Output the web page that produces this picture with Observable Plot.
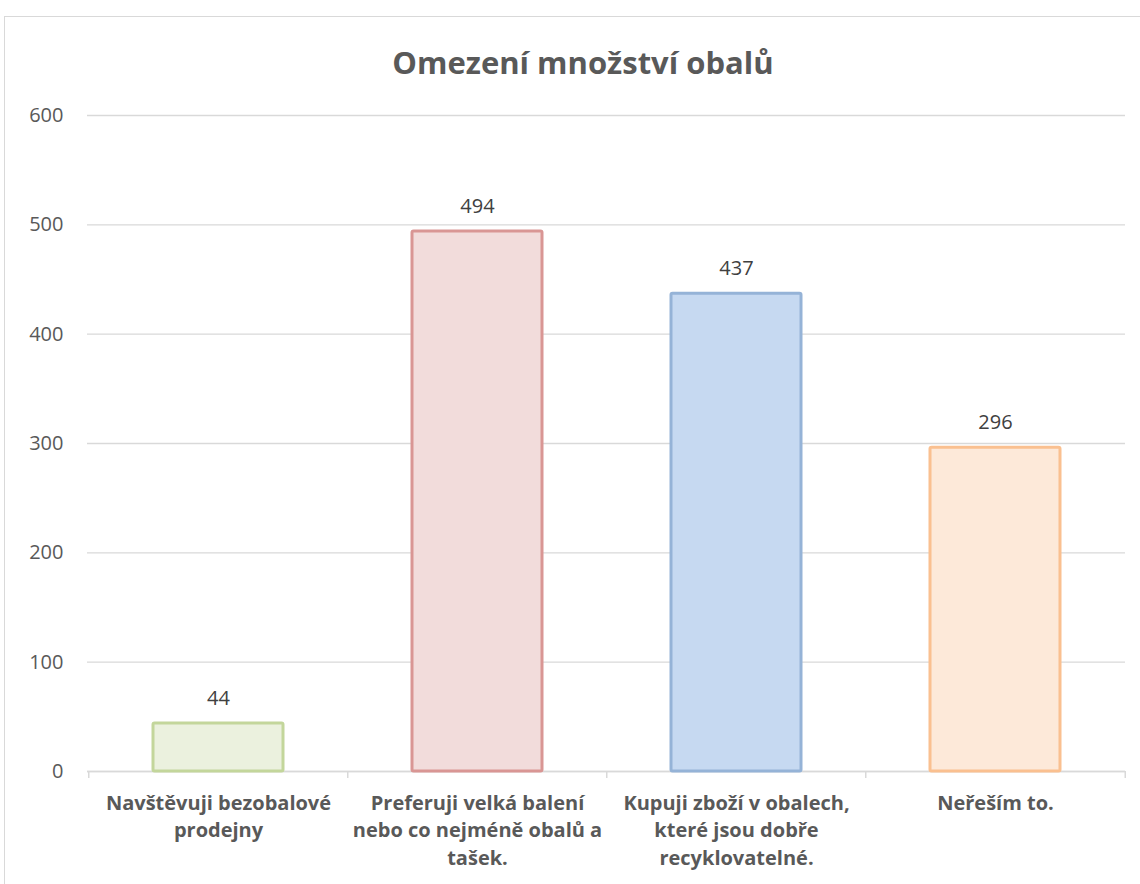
<!DOCTYPE html>
<html>
<head>
<meta charset="utf-8">
<script src="https://cdn.jsdelivr.net/npm/d3@7"></script>
<script src="https://cdn.jsdelivr.net/npm/@observablehq/plot@0.6"></script>
<style>
  html, body { margin: 0; padding: 0; background: #fff; }
  body { width: 1140px; height: 884px; position: relative; overflow: hidden; font-family: "Open Sans", sans-serif; }
  #frame { position: absolute; left: 4px; top: 16px; width: 1150px; height: 900px; border: 1.5px solid #d9d9d9; box-sizing: border-box; }
  #title { position: absolute; left: 0; top: 39px; width: 1166px; text-align: center; font-size: 31px; font-weight: 700; color: #595959; line-height: 46px; }
  #chart { position: absolute; left: 0; top: 90px; }
</style>
</head>
<body>
<div id="frame"></div>
<div id="title">Omezení množství obalů</div>
<div id="chart"></div>
<script>
const categories = ["nav", "pref", "kup", "nere"];
const labels = [
  "Navštěvuji bezobalové\nprodejny",
  "Preferuji velká balení\nnebo co nejméně obalů a\ntašek.",
  "Kupuji zboží v obalech,\nkteré jsou dobře\nrecyklovatelné.",
  "Neřeším to."
];
const values = [44, 494, 437, 296];
const fills = ["#ebf1de", "#f2dcdb", "#c6d9f1", "#fde9d9"];
const strokes = ["#c3d69b", "#d99694", "#95b3d7", "#fac090"];
const yTicks = [0, 100, 200, 300, 400, 500, 600];

const data = categories.map((c, i) => ({cat: c, label: labels[i], value: values[i], fill: fills[i], stroke: strokes[i]}));
const labelOf = new Map(categories.map((c, i) => [c, labels[i]]));

const W = 1140, H = 794, mL = 87, mR = 15, mT = 25, mB = 113;
const step = (W - mL - mR) / categories.length;

const chart = Plot.plot({
  width: W,
  height: H,
  marginLeft: mL,
  marginRight: mR,
  marginTop: mT,
  marginBottom: mB,
  style: {fontFamily: "'Open Sans', sans-serif", background: "transparent"},
  x: {domain: categories, paddingInner: 0.5, paddingOuter: 0.25, align: 0.5},
  y: {domain: [0, 600]},
  marks: [
    Plot.gridY(yTicks, {stroke: "#d9d9d9", strokeOpacity: 1, strokeWidth: 1.3}),
    Plot.ruleY([0], {stroke: "#d9d9d9", strokeWidth: 1.5}),
    Plot.ruleX(categories, {x: d => d, y1: 0, y2: 0, insetBottom: -7, dx: -step / 2, stroke: "#d9d9d9", strokeWidth: 1.5}),
    Plot.ruleX([categories[categories.length - 1]], {x: d => d, y1: 0, y2: 0, insetBottom: -7, dx: step / 2, stroke: "#d9d9d9", strokeWidth: 1.5}),
    Plot.barY(data, {x: "cat", y: "value", fill: "fill", stroke: "stroke", strokeWidth: 3, rx: 1.5}),
    Plot.text(data, {x: "cat", y: "value", text: d => String(d.value), dy: -25, fontSize: 20, fill: "#404040"}),
    Plot.axisY(yTicks, {tickSize: 0, tickPadding: 24, fontSize: 20, color: "#595959", label: null}),
    Plot.axisX({tickSize: 0, tickPadding: 19, fontSize: 20, fontWeight: 700, color: "#595959", lineHeight: 1.37, tickFormat: d => labelOf.get(d), label: null})
  ]
});
document.getElementById("chart").appendChild(chart);
</script>
</body>
</html>
